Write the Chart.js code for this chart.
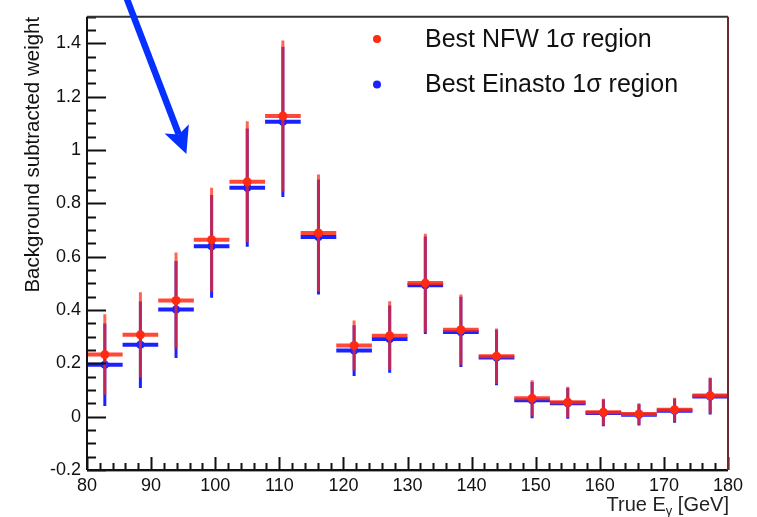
<!DOCTYPE html>
<html lang="en">
<head>
    <meta charset="UTF-8">
    <title>Background subtracted weight vs true energy</title>
    <style>
        html, body { margin: 0; padding: 0; background: #fff; }
        #chart { display: block; }
    </style>
</head>
<body>
    <canvas id="chart" width="757" height="517"></canvas>

    <script src="https://cdn.jsdelivr.net/npm/chart.js"></script>
    <script>
        // values
        const binCenters = [82.78, 88.33, 93.89, 99.44, 105.0, 110.56, 116.11, 121.67, 127.22,
                            132.78, 138.33, 143.89, 149.44, 155.0, 160.56, 166.11, 171.67, 177.22];
        const binHalfWidth = 2.78;
        const nfwValues = [0.233, 0.307, 0.436, 0.664, 0.881, 1.128, 0.689, 0.267, 0.304,
                           0.501, 0.326, 0.227, 0.069, 0.054, 0.017, 0.010, 0.026, 0.079];
        const nfwErrors = [0.151, 0.160, 0.180, 0.195, 0.227, 0.283, 0.219, 0.094, 0.129,
                           0.185, 0.132, 0.104, 0.068, 0.058, 0.050, 0.040, 0.045, 0.068];
        const einastoValues = [0.195, 0.270, 0.402, 0.639, 0.859, 1.106, 0.674, 0.248, 0.291,
                               0.493, 0.318, 0.222, 0.062, 0.050, 0.014, 0.007, 0.022, 0.076];
        const einastoErrors = [0.155, 0.162, 0.182, 0.193, 0.222, 0.282, 0.216, 0.095, 0.126,
                               0.183, 0.132, 0.104, 0.068, 0.058, 0.050, 0.040, 0.045, 0.068];
        const xTickValues = [80, 90, 100, 110, 120, 130, 140, 150, 160, 170, 180];
        const xTickLabels = ['80', '90', '100', '110', '120', '130', '140', '150', '160', '170', '180'];
        const yTickValues = [-0.2, 0, 0.2, 0.4, 0.6, 0.8, 1.0, 1.2, 1.4];
        const yTickLabels = ['-0.2', '0', '0.2', '0.4', '0.6', '0.8', '1', '1.2', '1.4'];
        // annotation arrow, in data units
        const arrowStart = [86.1, 1.575];
        const arrowEnd = [95.5, 0.985];

        const RED = '#ff2a12';
        const BLUE = '#1a22ff';
        const FONT = 'Liberation Sans, Arial, Helvetica, sans-serif';

        function toPoints(values) {
            return values.map((v, i) => ({ x: binCenters[i], y: v }));
        }

        function line(ctx, x1, y1, x2, y2) {
            ctx.beginPath();
            ctx.moveTo(x1, y1);
            ctx.lineTo(x2, y2);
            ctx.stroke();
        }

        // ROOT-like look: error bars, inside ticks, frame, legend, arrow
        const rootStyle = {
            id: 'rootStyle',
            beforeDatasetDraw(chart, args) {
                const ds = chart.data.datasets[args.index];
                const { ctx, chartArea, scales: { x, y } } = chart;
                ctx.save();
                ctx.beginPath();
                ctx.rect(chartArea.left, chartArea.top, chartArea.width, chartArea.height);
                ctx.clip();
                ctx.lineCap = 'butt';
                ds.data.forEach((p, i) => {
                    const err = ds.errors[i];
                    const px = x.getPixelForValue(p.x);
                    const py = y.getPixelForValue(p.y);
                    ctx.strokeStyle = ds.barColor;
                    ctx.lineWidth = 3;
                    line(ctx, px, y.getPixelForValue(p.y + err), px, y.getPixelForValue(p.y - err));
                    ctx.strokeStyle = ds.crossColor;
                    ctx.lineWidth = 4;
                    line(ctx, x.getPixelForValue(p.x - binHalfWidth), py, x.getPixelForValue(p.x + binHalfWidth), py);
                });
                ctx.restore();
            },
            afterDraw(chart) {
                const { ctx, chartArea: a, scales: { x, y } } = chart;
                ctx.save();

                // ticks pointing into the plot
                ctx.strokeStyle = '#111';
                ctx.lineWidth = 2;
                for (let v = -0.2; v <= 1.5 + 1e-9; v += 0.05) {
                    const major = Math.abs(v * 5 - Math.round(v * 5)) < 1e-6;
                    const py = Math.round(y.getPixelForValue(v)) + 0.5;
                    line(ctx, a.left, py, a.left + (major ? 19 : 9), py);
                }
                for (let v = 80; v <= 180; v += 2) {
                    const major = v % 10 === 0;
                    const px = Math.round(x.getPixelForValue(v)) + 0.5;
                    line(ctx, px, a.bottom, px, a.bottom - (major ? 13 : 7));
                }

                // frame
                ctx.strokeStyle = '#333';
                ctx.lineWidth = 2;
                line(ctx, a.left, a.top, a.right, a.top);
                ctx.strokeStyle = '#111';
                line(ctx, a.left, a.top, a.left, a.bottom);
                line(ctx, a.left, a.bottom, a.right, a.bottom);
                ctx.strokeStyle = 'rgba(230,40,30,0.6)';
                ctx.lineWidth = 1;
                line(ctx, a.left, a.bottom + 1.5, a.right, a.bottom + 1.5);
                ctx.strokeStyle = '#6e2a2a';
                ctx.lineWidth = 2;
                line(ctx, a.right, a.top, a.right, a.bottom);

                // legend
                ctx.font = '25px ' + FONT;
                ctx.textAlign = 'left';
                ctx.textBaseline = 'alphabetic';
                const items = chart.data.datasets;
                items.forEach((ds, i) => {
                    const cy = 39 + i * 45.5;
                    ctx.beginPath();
                    ctx.fillStyle = ds.pointBackgroundColor;
                    ctx.arc(377, cy, 4, 0, Math.PI * 2);
                    ctx.fill();
                    ctx.fillStyle = '#111';
                    ctx.fillText(ds.label, 425, cy + 7.5);
                });

                // x axis title with subscript
                const base = 511;
                ctx.fillStyle = '#222';
                ctx.font = '20px ' + FONT;
                const p1 = 'True E', p3 = ' [GeV]';
                const w1 = ctx.measureText(p1).width;
                const w3 = ctx.measureText(p3).width;
                ctx.font = '13px ' + FONT;
                const w2 = ctx.measureText('\u03b3').width;
                let tx = 729 - (w1 + w2 + w3);
                ctx.font = '20px ' + FONT;
                ctx.fillText(p1, tx, base);
                ctx.font = '13px ' + FONT;
                ctx.fillText('\u03b3', tx + w1, base + 4);
                ctx.font = '20px ' + FONT;
                ctx.fillText(p3, tx + w1 + w2, base);

                // blue annotation arrow
                const sx = x.getPixelForValue(arrowStart[0]), sy = y.getPixelForValue(arrowStart[1]);
                const ex = x.getPixelForValue(arrowEnd[0]), ey = y.getPixelForValue(arrowEnd[1]);
                const ang = Math.atan2(ey - sy, ex - sx);
                const headLen = 27, headHalf = 13, notch = 6;
                const ux = Math.cos(ang), uy = Math.sin(ang);
                ctx.strokeStyle = '#0530ff';
                ctx.fillStyle = '#0530ff';
                ctx.lineWidth = 6.5;
                line(ctx, sx, sy, ex - ux * (headLen - notch), ey - uy * (headLen - notch));
                const bx = ex - ux * headLen, by = ey - uy * headLen;
                ctx.beginPath();
                ctx.moveTo(ex, ey);
                ctx.lineTo(bx - uy * headHalf, by + ux * headHalf);
                ctx.lineTo(ex - ux * (headLen - notch), ey - uy * (headLen - notch));
                ctx.lineTo(bx + uy * headHalf, by - ux * headHalf);
                ctx.closePath();
                ctx.fill();

                ctx.restore();
            }
        };

        const ctx = document.getElementById('chart').getContext('2d');
        const chart = new Chart(ctx, {
            type: 'scatter',
            data: {
                datasets: [
                    {
                        label: 'Best NFW 1\u03c3 region',
                        data: toPoints(nfwValues),
                        errors: nfwErrors,
                        barColor: 'rgba(255,40,20,0.72)',
                        crossColor: 'rgba(255,40,20,0.85)',
                        pointBackgroundColor: RED,
                        pointBorderWidth: 0,
                        pointRadius: 4.5
                    },
                    {
                        label: 'Best Einasto 1\u03c3 region',
                        data: toPoints(einastoValues),
                        errors: einastoErrors,
                        barColor: BLUE,
                        crossColor: BLUE,
                        pointBackgroundColor: BLUE,
                        pointBorderWidth: 0,
                        pointRadius: 4
                    }
                ]
            },
            options: {
                responsive: false,
                animation: false,
                layout: { padding: { top: 10, right: 29, left: 0, bottom: 0 } },
                plugins: {
                    legend: { display: false },
                    tooltip: { enabled: false }
                },
                scales: {
                    x: {
                        type: 'linear',
                        min: 80,
                        max: 180,
                        afterBuildTicks: (scale) => { scale.ticks = xTickValues.map(v => ({ value: v })); },
                        afterFit: (scale) => { scale.height = 47; },
                        grid: { display: false, drawTicks: false },
                        border: { display: false },
                        ticks: {
                            autoSkip: false,
                            maxRotation: 0,
                            padding: 5,
                            color: '#111',
                            font: { family: FONT, size: 18 },
                            callback: (v) => xTickLabels[xTickValues.indexOf(v)]
                        }
                    },
                    y: {
                        min: -0.2,
                        max: 1.5,
                        afterBuildTicks: (scale) => { scale.ticks = yTickValues.map(v => ({ value: v })); },
                        afterFit: (scale) => { scale.width = 87; },
                        grid: { display: false, drawTicks: false },
                        border: { display: false },
                        ticks: {
                            autoSkip: false,
                            padding: 6,
                            color: '#111',
                            font: { family: FONT, size: 18 },
                            callback: (v) => {
                                const i = yTickValues.findIndex(t => Math.abs(t - v) < 1e-9);
                                return i >= 0 ? yTickLabels[i] : '';
                            }
                        },
                        title: {
                            display: true,
                            text: 'Background subtracted weight',
                            align: 'end',
                            color: '#111',
                            font: { family: FONT, size: 20.5 },
                            padding: { top: 21, bottom: 0 }
                        }
                    }
                }
            },
            plugins: [rootStyle]
        });
    </script>
</body>
</html>
